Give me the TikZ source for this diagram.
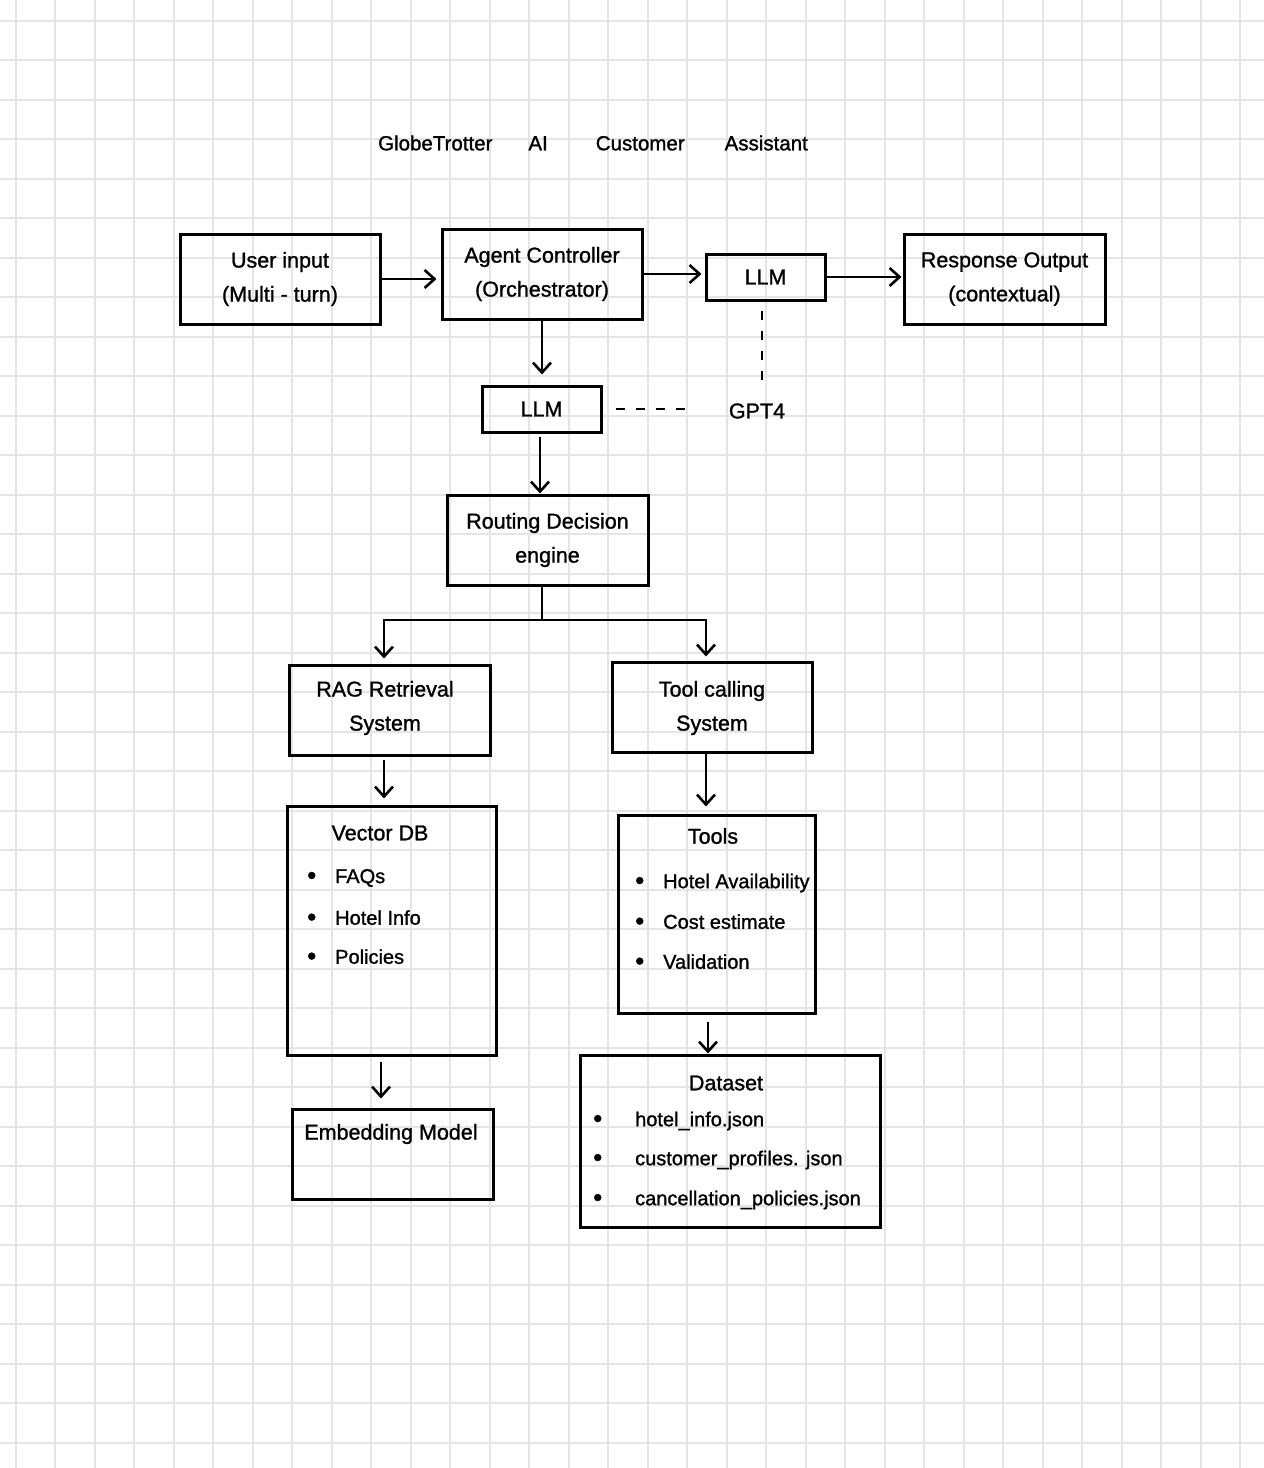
\documentclass[tikz,border=0pt]{standalone}
\usepackage{fontspec}
\setmainfont{Liberation Sans}
\newfontfamily\penfont{Liberation Sans}[FakeBold=1.2]
\usetikzlibrary{arrows.meta}
\definecolor{gridc}{RGB}{229,229,229}
\newcommand{\dotmark}[1]{\makebox[#1][l]{\raisebox{-1pt}{\fontsize{26}{26}\selectfont\textbullet}}}
\begin{document}
\begin{tikzpicture}[x=1pt,y=-1pt,
  gridline/.style={gridc, line width=1.6pt},
  box/.style={draw, line width=3pt, inner sep=0pt, align=center,
    font=\penfont\fontsize{21.5}{34}\selectfont},
  txt/.style={inner sep=0pt, align=center, font=\penfont\fontsize{21.5}{34}\selectfont},
  item/.style={inner sep=0pt, anchor=west, font=\penfont\fontsize{20}{24}\selectfont},
  conn/.style={line width=2.6pt},
  arr/.style={line width=2.6pt, -{Straight Barb[length=10pt,width=18pt,line width=2.6pt]}},
  dashline/.style={line width=2.6pt, dash pattern=on 9pt off 11pt}]

% paper and grid
\fill[white] (0,0) rectangle (1264,1468);
\useasboundingbox (0,0) rectangle (1264,1468);
\foreach \k in {0,...,31} \draw[gridline] ({15.7+39.5*\k},0) -- ({15.7+39.5*\k},1468);
\foreach \k in {0,...,36} \draw[gridline] (0,{20.7+39.5*\k}) -- (1264,{20.7+39.5*\k});

% title
\node[txt, font=\penfont\fontsize{20.5}{24}\selectfont] (title) at (593,143)
  {GlobeTrotter\hspace{36pt}AI\hspace{48pt}Customer\hspace{40pt}Assistant};

% top row
\node[box, minimum width=200, minimum height=90] (user) at (280,279) {User input\\(Multi - turn)};
\node[box, minimum width=200, minimum height=90] (agent) at (542,274) {Agent Controller\\(Orchestrator)};
\node[box, minimum width=119, minimum height=46] (llmA) at (765.5,277) {LLM};
\node[box, minimum width=201, minimum height=90] (resp) at (1004.5,279) {Response Output\\(contextual)};

% second LLM and model label
\node[box, minimum width=119, minimum height=46] (llmB) at (541.5,409) {LLM};
\node[txt] (gpt) at (757,411) {GPT4};

% routing
\node[box, minimum width=201, minimum height=90] (route) at (547.5,540) {Routing Decision\\engine};

% branches
\node[box, minimum width=201, minimum height=90] (rag) at (389.5,710) {};
\node[txt] (ragT) at (385,708) {RAG Retrieval\\System};
\node[box, minimum width=200, minimum height=90] (tool) at (712,707) {};
\node[txt] (toolT) at (712,708) {Tool calling\\System};

% vector DB
\node[box, minimum width=209, minimum height=249] (vdb) at (391.5,930.5) {};
\node[txt] (vdbT) at (380,833) {Vector DB};
\node[item] (v1) at (307,878) {\dotmark{28pt}FAQs};
\node[item] (v2) at (307,918) {\dotmark{28pt}Hotel Info};
\node[item] (v3) at (307,957) {\dotmark{28pt}Policies};

% tools
\node[box, minimum width=197, minimum height=198] (tools) at (716.5,914) {};
\node[txt] (toolsT) at (713,836) {Tools};
\node[item] (t1) at (635,883) {\dotmark{28pt}Hotel Availability};
\node[item] (t2) at (635,922) {\dotmark{28pt}Cost estimate};
\node[item] (t3) at (635,962) {\dotmark{28pt}Validation};

% embedding model
\node[box, minimum width=201, minimum height=90] (emb) at (392.5,1154) {};
\node[txt] (embT) at (391,1134) {Embedding Model};

% dataset
\node[box, minimum width=300, minimum height=172] (data) at (730,1141) {};
\node[txt] (dataT) at (726,1083) {Dataset};
\node[item] (d1) at (593,1121) {\dotmark{42pt}hotel\_info.json};
\node[item] (d2) at (593,1160) {\dotmark{42pt}customer\_profiles. json};
\node[item] (d3) at (593,1200) {\dotmark{42pt}cancellation\_policies.json};

% connectors
\draw[arr, shorten >=4pt] (user.east) -- (user.east -| agent.west);
\draw[arr, shorten >=3pt] (agent.east) -- (agent.east -| llmA.west);
\draw[arr, shorten >=1pt] (llmA.east) -- (llmA.east -| resp.west);
\draw[arr, shorten >=10pt] (agent.south) -- (agent.south |- llmB.north);
\draw[arr, shorten <=3pt] ([xshift=-1.5pt]llmB.south) -- ([xshift=-1.5pt]llmB.south |- route.north);
\draw[dashline, shorten <=9pt, shorten >=16pt] ([xshift=-3.5pt]llmA.south) -- ([xshift=-3.5pt]llmA.south |- gpt.north);
\draw[dashline, shorten <=13pt, shorten >=38pt] (llmB.east) -- (llmB.east -| gpt.west);

\coordinate (fork) at ([xshift=-5.5pt]route.south |- 0,620);
\draw[conn] ([xshift=-5.5pt]route.south) -- (fork);
\draw[arr, shorten >=5pt] (fork) -| ([xshift=-5.5pt]rag.north);
\draw[arr, shorten >=4pt] (fork) -| ([xshift=-6pt]tool.north);

\draw[arr, shorten <=3pt, shorten >=6pt] ([xshift=-5.5pt]rag.south) -- ([xshift=-5.5pt]rag.south |- vdb.north);
\draw[arr, shorten >=7pt] ([xshift=-6pt]tool.south) -- ([xshift=-6pt]tool.south |- tools.north);
\draw[arr, shorten <=5pt, shorten >=9pt] ([xshift=-10.5pt]vdb.south) -- ([xshift=-10.5pt]vdb.south |- emb.north);
\draw[arr, shorten <=7pt] ([xshift=-8.5pt]tools.south) -- ([xshift=-8.5pt]tools.south |- data.north);
\end{tikzpicture}
\end{document}
